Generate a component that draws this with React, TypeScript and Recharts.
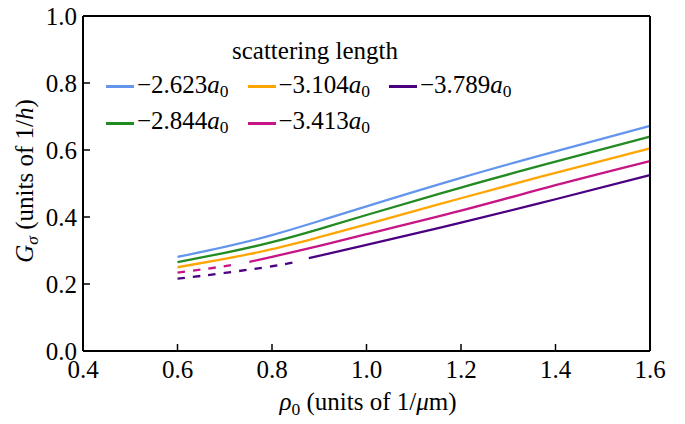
import { LineChart, Line, XAxis, YAxis } from "recharts";

// rho_0 (1/um) and G_sigma (1/h)
const rhoBlue = [0.6, 0.7, 0.8, 0.9, 1.0, 1.2, 1.4, 1.6];
const gBlue = [0.281, 0.311, 0.346, 0.388, 0.432, 0.517, 0.596, 0.672];

const rhoGreen = [0.6, 0.7, 0.8, 0.9, 1.0, 1.2, 1.4, 1.6];
const gGreen = [0.265, 0.293, 0.325, 0.364, 0.406, 0.488, 0.565, 0.64];

const rhoOrange = [0.6, 0.7, 0.8, 0.9, 1.0, 1.2, 1.4, 1.6];
const gOrange = [0.25, 0.275, 0.304, 0.34, 0.378, 0.456, 0.532, 0.605];

const rhoMagentaDash = [0.6, 0.66, 0.717];
const gMagentaDash = [0.234, 0.245, 0.257];
const rhoMagenta = [0.752, 0.8, 0.9, 1.0, 1.2, 1.4, 1.6];
const gMagenta = [0.266, 0.281, 0.314, 0.349, 0.419, 0.495, 0.567];

const rhoPurpleDash = [0.6, 0.7, 0.8, 0.845];
const gPurpleDash = [0.216, 0.233, 0.253, 0.264];
const rhoPurple = [0.878, 1.0, 1.2, 1.4, 1.6];
const gPurple = [0.277, 0.317, 0.383, 0.453, 0.525];

const xTicks = [0.4, 0.6, 0.8, 1.0, 1.2, 1.4, 1.6];
const yTicks = [0, 0.2, 0.4, 0.6, 0.8, 1.0];

const legendItems = [
  { label: "2.623", color: "#6495ED" },
  { label: "2.844", color: "#228B22" },
  { label: "3.104", color: "#FFA500" },
  { label: "3.413", color: "#C71585" },
  { label: "3.789", color: "#4B0082" },
];

const FONT = "Liberation Serif, Tinos, DejaVu Serif, serif";
const TM = 6; // tick margin
const TL = 7; // inward tick length

const pts = (xs: number[], ys: number[]) => xs.map((x, i) => ({ x, g: ys[i] }));

const LeftTick = (p: any) => {
  const ax = p.x + TM;
  return (
    <g>
      <line x1={ax} x2={ax + TL} y1={p.y} y2={p.y} stroke="#000" strokeWidth={1.5} />
      <text x={p.x} y={p.y} dy="0.36em" textAnchor="end" fontSize={25} fontFamily={FONT} fill="#000">
        {p.payload.value.toFixed(1)}
      </text>
    </g>
  );
};

const RightTick = (p: any) => {
  const ax = p.x - TM;
  return <line x1={ax} x2={ax - TL} y1={p.y} y2={p.y} stroke="#000" strokeWidth={1.5} />;
};

const BottomTick = (p: any) => {
  const ay = p.y - TM;
  return (
    <g>
      <line x1={p.x} x2={p.x} y1={ay} y2={ay - TL} stroke="#000" strokeWidth={1.5} />
      <text x={p.x} y={ay + 9} dy="0.72em" textAnchor="middle" fontSize={25} fontFamily={FONT} fill="#000">
        {p.payload.value.toFixed(1)}
      </text>
    </g>
  );
};

const TopTick = (p: any) => {
  const ay = p.y + TM;
  return <line x1={p.x} x2={p.x} y1={ay} y2={ay + TL} stroke="#000" strokeWidth={1.5} />;
};

const axisLine = { stroke: "#000", strokeWidth: 2 };

export default function App() {
  const series = [
    { d: pts(rhoBlue, gBlue), c: "#6495ED", dash: undefined },
    { d: pts(rhoGreen, gGreen), c: "#228B22", dash: undefined },
    { d: pts(rhoOrange, gOrange), c: "#FFA500", dash: undefined },
    { d: pts(rhoMagentaDash, gMagentaDash), c: "#C71585", dash: "7.5 8" },
    { d: pts(rhoMagenta, gMagenta), c: "#C71585", dash: undefined },
    { d: pts(rhoPurpleDash, gPurpleDash), c: "#4B0082", dash: "7.5 8" },
    { d: pts(rhoPurple, gPurple), c: "#4B0082", dash: undefined },
  ];

  const sub = { fontSize: "0.7em", verticalAlign: "-0.25em" } as const;

  return (
    <div style={{ position: "absolute", left: 0, top: 0, width: 685, height: 424, background: "#fff", fontFamily: FONT }}>
      <LineChart width={685} height={424} margin={{ top: 11, right: 30, left: 33, bottom: 23 }}>
        <XAxis
          dataKey="x"
          type="number"
          domain={[0.4, 1.6]}
          ticks={xTicks}
          height={50}
          tickSize={0}
          tickMargin={TM}
          tickLine={false}
          axisLine={axisLine}
          tick={<BottomTick />}
          allowDuplicatedCategory={false}
        />
        <XAxis
          xAxisId="top"
          orientation="top"
          dataKey="x"
          type="number"
          domain={[0.4, 1.6]}
          ticks={xTicks}
          height={5}
          tickSize={0}
          tickMargin={TM}
          tickLine={false}
          axisLine={axisLine}
          tick={<TopTick />}
        />
        <YAxis
          type="number"
          domain={[0, 1]}
          ticks={yTicks}
          width={50}
          tickSize={0}
          tickMargin={TM}
          tickLine={false}
          axisLine={axisLine}
          tick={<LeftTick />}
        />
        <YAxis
          yAxisId="right"
          orientation="right"
          type="number"
          domain={[0, 1]}
          ticks={yTicks}
          width={5}
          tickSize={0}
          tickMargin={TM}
          tickLine={false}
          axisLine={axisLine}
          tick={<RightTick />}
        />
        {series.map((s, i) => (
          <Line
            key={i}
            data={s.d}
            dataKey="g"
            type="natural"
            stroke={s.c}
            strokeWidth={2.3}
            strokeDasharray={s.dash}
            dot={false}
            activeDot={false}
            isAnimationActive={false}
          />
        ))}
      </LineChart>

      {/* legend */}
      <div style={{ position: "absolute", left: 232, top: 36, fontSize: 25, lineHeight: "30px", whiteSpace: "nowrap" }}>
        scattering length
      </div>
      {legendItems.map((it, i) => {
        const col = Math.floor(i / 2);
        const row = i % 2;
        const left = 106 + col * 141.5;
        const cy = 86.5 + row * 36.5;
        return (
          <div key={it.label} style={{ position: "absolute", left, top: cy - 15, height: 30, display: "flex", alignItems: "center", whiteSpace: "nowrap", fontSize: 25 }}>
            <span style={{ display: "inline-block", width: 28, height: 3, background: it.color, marginRight: 3 }} />
            <span>
              −{it.label}
              <i>a</i>
              <span style={sub}>0</span>
            </span>
          </div>
        );
      })}

      {/* axis labels */}
      <div style={{ position: "absolute", left: 368, top: 404, transform: "translate(-50%, -50%)", fontSize: 25, whiteSpace: "nowrap" }}>
        <i>ρ</i>
        <span style={sub}>0</span> (units of 1/<i>μ</i>m)
      </div>
      <div style={{ position: "absolute", left: 27, top: 181, transform: "translate(-50%, -50%) rotate(-90deg)", fontSize: 25, whiteSpace: "nowrap" }}>
        <i>G</i>
        <i style={sub}>σ</i> (units of 1/<i>h</i>)
      </div>
    </div>
  );
}
